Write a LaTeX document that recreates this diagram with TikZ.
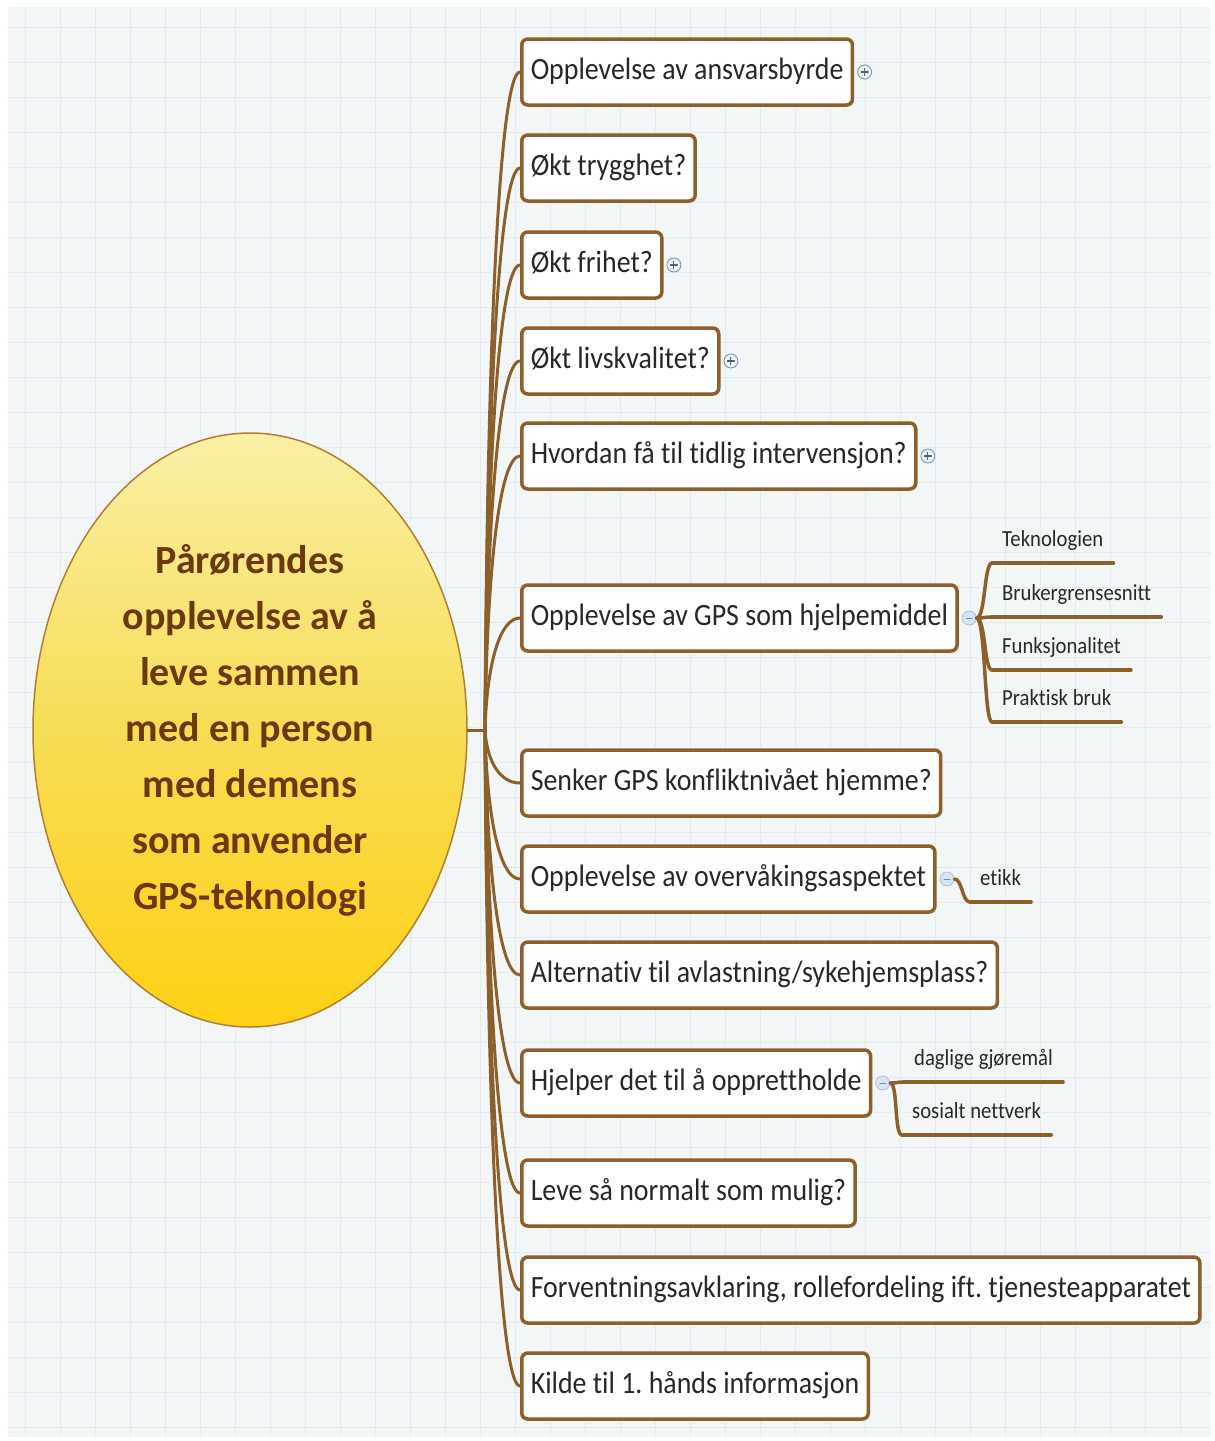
\documentclass[tikz,border=0pt]{standalone}
\usepackage{fontspec}
\setmainfont[Ligatures=NoCommon]{Carlito}
\newfontfamily\topicfont[FakeStretch=0.9,Ligatures=NoCommon]{Carlito}
\usetikzlibrary{positioning,shapes.geometric,shadows}
\frenchspacing
\definecolor{mapbrown}{RGB}{140,96,42}
\definecolor{rootbrown}{RGB}{108,56,14}
\definecolor{rootedge}{RGB}{176,128,48}
\definecolor{textgray}{RGB}{40,40,40}
\definecolor{bgpale}{RGB}{243,246,247}
\definecolor{gridpale}{RGB}{229,235,237}
\definecolor{iconedge}{RGB}{110,140,175}
\definecolor{iconfill}{RGB}{214,228,243}
\begin{document}
\begin{tikzpicture}[x=1pt,y=-1pt,line join=round,line cap=round,
  topic/.style={draw=mapbrown,line width=3.5pt,rounded corners=6pt,fill=white,
    font=\topicfont\fontsize{31}{37}\selectfont,text=textgray,anchor=west,
    inner xsep=9pt,text height=22pt,text depth=7pt,minimum height=66pt,
    drop shadow={opacity=0.18,fill=mapbrown,shadow xshift=1.5pt,shadow yshift=-1.5pt}},
  branch/.style={draw=mapbrown,line width=3pt},
  subline/.style={draw=mapbrown,line width=3.5pt},
  subtopic/.style={font=\topicfont\fontsize{23}{28}\selectfont,text=textgray,anchor=south west,
    inner xsep=10pt,inner ysep=11pt,text height=16pt,text depth=5pt},
  root/.style={ellipse,draw=rootedge,line width=1.5pt,
    top color={rgb,255:red,250;green,239;blue,165},bottom color={rgb,255:red,255;green,208;blue,20},
    middle color={rgb,255:red,247;green,221;blue,85},
    minimum width=434pt,minimum height=594pt,inner sep=0pt,align=center,text=rootbrown,
    font=\bfseries\fontsize{40}{56}\selectfont},
  expander/.style={circle,draw=iconedge,fill=white,line width=0.8pt,minimum size=14pt,inner sep=0pt},
  plusicon/.style={expander,fill=iconfill!40,path picture={
    \draw[iconedge!70!black,line width=1.1pt] ([xshift=-3.5pt]path picture bounding box.center)--([xshift=3.5pt]path picture bounding box.center)
      ([yshift=-3.5pt]path picture bounding box.center)--([yshift=3.5pt]path picture bounding box.center);}},
  minusicon/.style={expander,fill=iconfill,draw=iconfill!60!iconedge,path picture={
    \draw[iconedge,line width=0.8pt] ([xshift=-3pt]path picture bounding box.center)--([xshift=3pt]path picture bounding box.center);}}]
\useasboundingbox (0,0) rectangle (1215,1441);
% bakgrunn
\fill[white] (0,0) rectangle (1215,1441);
\fill[bgpale] (8,7) rectangle (1211,1437);
\foreach \gx in {25,60,...,1211} \draw[gridpale,line width=0.6pt] (\gx,7)--(\gx,1437);
\foreach \gy in {27,62,...,1437} \draw[gridpale,line width=0.6pt] (8,\gy)--(1211,\gy);

\node[root] (root) at (250,730) {Pårørendes\\opplevelse av å\\leve sammen\\med en person\\med demens\\som anvender\\GPS-teknologi};
\coordinate (hub) at (485,730);
\draw[branch] (root.east)--(hub);

\foreach \i/\y/\txt in {1/72/{Opplevelse av ansvarsbyrde},2/168/{Økt trygghet?},3/265/{Økt frihet?},
  4/361/{Økt livskvalitet?},5/456/{Hvordan få til tidlig intervensjon?},6/618/{Opplevelse av GPS som hjelpemiddel},
  7/783/{Senker GPS konfliktnivået hjemme?},8/879/{Opplevelse av overvåkingsaspektet},
  9/975/{Alternativ til avlastning/sykehjemsplass?},10/1083/{Hjelper det til å opprettholde},
  11/1193/{Leve så normalt som mulig?},12/1290/{Forventningsavklaring, rollefordeling ift. tjenesteapparatet},
  13/1386/{Kilde til 1. hånds informasjon}}{
  \node[topic] (b\i) at (520,\y) {\txt};
  \draw[branch] (hub) .. controls +(2,{0.6*(\y-730)}) and +(-20,0) .. (b\i.west);
}

\foreach \i in {1,3,4,5} \node[plusicon,right=3pt of b\i] (p\i) {};
\foreach \i in {6,8,10} \node[minusicon,right=3pt of b\i] (m\i) {};

% GPS som hjelpemiddel
\node[subtopic] (g1) at (992,563) {Teknologien};
\node[subtopic] (g2) at (992,617) {Brukergrensesnitt};
\node[subtopic] (g3) at (992,670) {Funksjonalitet};
\node[subtopic] (g4) at (992,722) {Praktisk bruk};
\foreach \j in {1,...,4}{
  \draw[subline] (g\j.south west)--(g\j.south east);
  \draw[subline] (m6.east) .. controls +(9,0) and +(-8,0) .. (g\j.south west);
}

% overvaking
\node[subtopic] (e1) at (970,902) {etikk};
\draw[subline] (e1.south west)--(e1.south east);
\draw[subline] (m8.east) .. controls +(8,0) and +(-8,0) .. (e1.south west);

% opprettholde
\node[subtopic] (h1) at (904,1082) {daglige gjøremål};
\node[subtopic] (h2) at (902,1135) {sosialt nettverk};
\foreach \j in {1,2}{
  \draw[subline] (h\j.south west)--(h\j.south east);
  \draw[subline] (m10.east) .. controls +(8,0) and +(-8,0) .. (h\j.south west);
}
\end{tikzpicture}
\end{document}
